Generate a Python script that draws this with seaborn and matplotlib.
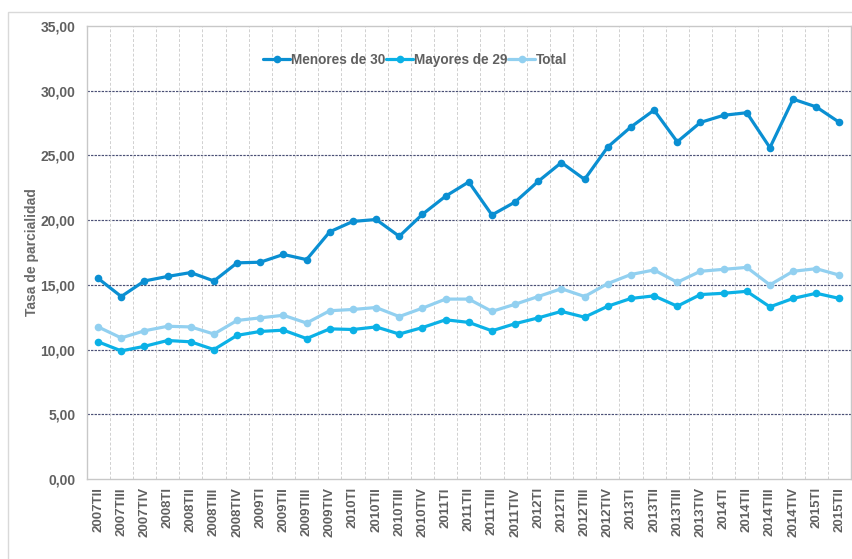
import numpy as np
import pandas as pd
import seaborn as sns
import matplotlib.pyplot as plt
from matplotlib.patches import Rectangle

# quarters
periodos = ["2007TII", "2007TIII", "2007TIV",
            "2008TI", "2008TII", "2008TIII", "2008TIV",
            "2009TI", "2009TII", "2009TIII", "2009TIV",
            "2010TI", "2010TII", "2010TIII", "2010TIV",
            "2011TI", "2011TII", "2011TIII", "2011TIV",
            "2012TI", "2012TII", "2012TIII", "2012TIV",
            "2013TI", "2013TII", "2013TIII", "2013TIV",
            "2014TI", "2014TII", "2014TIII", "2014TIV",
            "2015TI", "2015TII"]

menores_30 = [15.5, 14.1, 15.3, 15.65, 15.95, 15.3, 16.7, 16.75, 17.35, 16.95, 19.1,
              19.9, 20.05, 18.75, 20.45, 21.85, 22.95, 20.4, 21.4, 23.0, 24.45,
              23.15, 25.65, 27.2, 28.5, 26.05, 27.55, 28.1, 28.3, 25.6, 29.35,
              28.75, 27.55]
mayores_29 = [10.6, 9.9, 10.25, 10.7, 10.6, 10.0, 11.1, 11.4, 11.5, 10.85, 11.6,
              11.55, 11.75, 11.2, 11.7, 12.3, 12.1, 11.45, 12.0, 12.45, 12.95,
              12.5, 13.35, 13.95, 14.15, 13.35, 14.25, 14.35, 14.5, 13.3, 13.95,
              14.35, 13.95]
total = [11.75, 10.9, 11.45, 11.8, 11.75, 11.2, 12.25, 12.45, 12.65, 12.05, 13.0,
         13.1, 13.25, 12.55, 13.2, 13.9, 13.9, 12.95, 13.5, 14.1, 14.7,
         14.1, 15.1, 15.8, 16.15, 15.2, 16.05, 16.2, 16.35, 15.0, 16.05,
         16.25, 15.75]

series = ["Menores de 30", "Mayores de 29", "Total"]
colores = ["#0a8fd2", "#0bb1e6", "#92d0f0"]

pos = np.arange(len(periodos))
df = pd.DataFrame({
    "pos": np.tile(pos, 3),
    "valor": menores_30 + mayores_29 + total,
    "serie": np.repeat(series, len(periodos)),
})

sns.set_style("white")
plt.rcParams["font.family"] = ["Liberation Sans", "DejaVu Sans"]
plt.rcParams["font.weight"] = "bold"
gris = "#606060"

fig = plt.figure(figsize=(8.52, 5.59), dpi=100)
ax = fig.add_axes([86.5 / 852, 1 - 479 / 559, (851 - 86.5) / 852, (479 - 26) / 559])

# outer frame of the chart
fig.patches.append(Rectangle((8 / 852, -0.01), 1.0, 1 - 12 / 559 + 0.01,
                             transform=fig.transFigure, fill=False,
                             edgecolor="#d9d9d9", linewidth=1.0))

sns.lineplot(data=df, x="pos", y="valor", hue="serie", hue_order=series,
             palette=colores, marker="o", markersize=5.5, markeredgewidth=0,
             linewidth=2.3, sort=False, ax=ax)

ax.set_xlim(-0.5, len(periodos) - 0.5)
ax.set_ylim(0, 35)
ax.set_yticks(np.arange(0, 36, 5))
ax.set_yticklabels([f"{v:.2f}".replace(".", ",") for v in np.arange(0, 36, 5)])
ax.set_xticks(pos)
ax.set_xticklabels(periodos, rotation=90)
ax.tick_params(axis="y", length=0, labelsize=10, labelcolor=gris, pad=8)
ax.tick_params(axis="x", length=0, labelsize=9.5, labelcolor=gris, pad=6)
for lab in ax.get_xticklabels() + ax.get_yticklabels():
    lab.set_fontweight("bold")

# gridlines
for v in np.arange(5, 35, 5):
    ax.axhline(v, color="#4a4f75", linestyle=(0, (2, 1)), linewidth=0.85, zorder=0)
for b in pos[:-1] + 0.5:
    ax.axvline(b, color="#d0d0d0", linestyle=(0, (3, 2)), linewidth=0.7, zorder=0)

for s in ax.spines.values():
    s.set_color("#c8c8c8")
    s.set_linewidth(1.0)

ax.set_xlabel("")
ax.set_ylabel("Tasa de parcialidad", fontsize=10, color="#6a6a6a", fontweight="bold")
ax.yaxis.set_label_coords(-0.062, 0.5)

leg = ax.legend(loc="center", bbox_to_anchor=(0.43, 0.925), ncol=3, frameon=False,
                fontsize=9.8, handlelength=2.0, handletextpad=0.05, columnspacing=0.05)
for t in leg.get_texts():
    t.set_color(gris)
    t.set_fontweight("bold")

fig.savefig("out.png", dpi=100)
